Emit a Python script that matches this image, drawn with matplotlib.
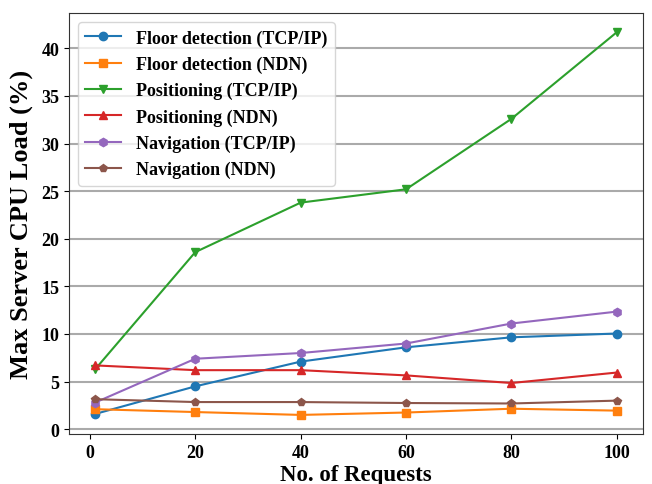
import matplotlib
matplotlib.use("Agg")
import matplotlib.pyplot as plt

# Data
requests = [1, 20, 40, 60, 80, 100]
floor_tcp = [1.6, 4.5, 7.1, 8.6, 9.65, 10.05]
floor_ndn = [2.1, 1.8, 1.5, 1.75, 2.15, 1.95]
pos_tcp = [6.3, 18.6, 23.8, 25.2, 32.6, 41.7]
pos_ndn = [6.7, 6.2, 6.2, 5.65, 4.85, 5.95]
nav_tcp = [2.8, 7.4, 8.0, 9.0, 11.1, 12.35]
nav_ndn = [3.15, 2.85, 2.85, 2.75, 2.7, 3.0]

plt.rcParams["font.family"] = ["Liberation Serif", "DejaVu Serif"]
plt.rcParams["font.weight"] = "bold"

fig, ax = plt.subplots(figsize=(6.52, 4.85), dpi=100)
ax.plot(requests, floor_tcp, marker="o", label="Floor detection (TCP/IP)")
ax.plot(requests, floor_ndn, marker="s", label="Floor detection (NDN)")
ax.plot(requests, pos_tcp, marker="v", label="Positioning (TCP/IP)")
ax.plot(requests, pos_ndn, marker="^", label="Positioning (NDN)")
ax.plot(requests, nav_tcp, marker="h", label="Navigation (TCP/IP)")
ax.plot(requests, nav_ndn, marker="p", label="Navigation (NDN)")

ax.set_xticks([0, 20, 40, 60, 80, 100])
ax.set_yticks(range(0, 45, 5))
ax.tick_params(labelsize=13)
ax.yaxis.grid(True, color="#aaaaaa", linewidth=1.5)
ax.set_axisbelow(True)
for s in ax.spines.values():
    s.set_color("#333333")
ax.set_xlabel("No. of Requests", fontsize=16.5, fontweight="bold", labelpad=2)
ax.set_ylabel("Max Server CPU Load (%)", fontsize=19, fontweight="bold", labelpad=6)
ax.legend(prop={"weight": "bold", "size": 13}, loc="upper left")

fig.subplots_adjust(left=0.106, right=0.986, top=0.971, bottom=0.103)
fig.savefig("out.png")
